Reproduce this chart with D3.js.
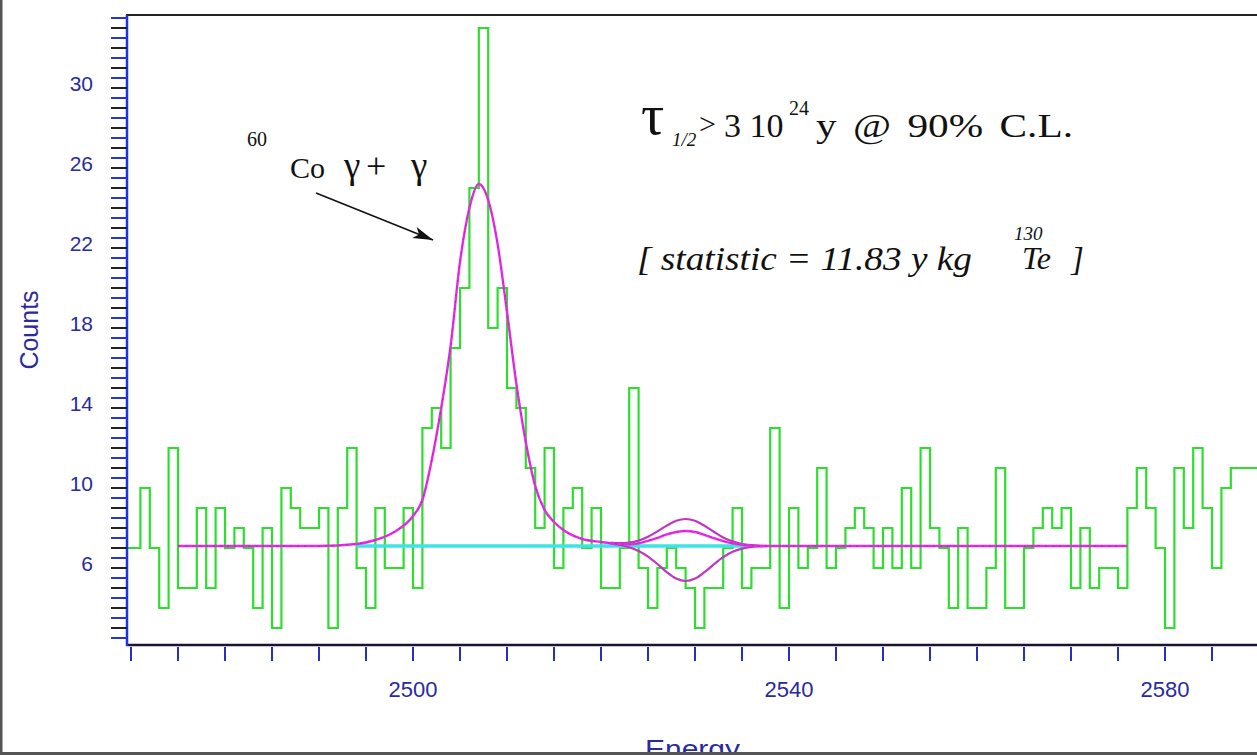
<!DOCTYPE html>
<html>
<head>
<meta charset="utf-8">
<script src="https://cdn.jsdelivr.net/npm/d3@7"></script>
<style>
html, body { margin: 0; padding: 0; background: #fff; }
svg { display: block; }
.tick-label { font-family: "Liberation Sans", Arial, sans-serif; font-size: 21px; fill: #2a2aa0; }
.serif { font-family: "Liberation Serif", "Times New Roman", serif; fill: #111; }
</style>
</head>
<body>
<div id="chart"></div>
<script>
// histogram: one bin per keV, first bin starts at binStart
var binStart = 2469;
var counts = [6, 6, 9, 6, 3, 11, 4, 4, 8, 4, 8, 6, 7, 6, 3, 7, 2, 9, 8, 7,
	7, 8, 2, 8, 11, 5, 3, 8, 5, 5, 8, 4, 12, 13, 11, 16, 19, 24, 32, 17,
	19, 14, 13, 10, 7, 11, 5, 8, 9, 6, 8, 4, 4, 6, 14, 5, 3, 5, 6, 5,
	4, 2, 4, 4, 6, 8, 4, 5, 5, 12, 3, 8, 5, 6, 10, 5, 6, 7, 8, 7,
	5, 7, 5, 9, 5, 11, 7, 6, 3, 7, 3, 3, 5, 10, 3, 3, 6, 7, 8, 7,
	8, 4, 7, 4, 5, 5, 4, 8, 10, 8, 6, 2, 10, 7, 11, 8, 5, 9, 10, 10, 10];

// 60Co sum peak fit
var fitEnergy = [2475, 2490, 2494, 2496, 2498, 2500, 2501, 2502, 2503, 2504, 2505, 2506, 2507,
	2508, 2509, 2510, 2511, 2512, 2513, 2514, 2515, 2516, 2518, 2520];
var fitCounts = [6.1, 6.1, 6.2, 6.4, 6.8, 7.6, 8.4, 10.4, 13.0, 16.1, 20.3, 23.0, 24.2,
	23.4, 21.2, 17.8, 14.2, 11.3, 9.1, 7.9, 7.3, 6.9, 6.45, 6.3];
var fitEndEnergy = 2576;
var fitEndCounts = 6.1;

// signal region curves around 2529 keV
var sigEnergy = [2521, 2522, 2523, 2524, 2525, 2526, 2527, 2528, 2529, 2530,
	2531, 2532, 2533, 2534, 2535, 2536, 2537, 2538];
var sigUpper = [6.27, 6.24, 6.27, 6.37, 6.56, 6.83, 7.12, 7.36, 7.45, 7.36,
	7.11, 6.81, 6.53, 6.33, 6.2, 6.14, 6.11, 6.1];
var sigMiddle = [6.24, 6.21, 6.18, 6.23, 6.36, 6.51, 6.68, 6.8, 6.85, 6.8,
	6.66, 6.49, 6.34, 6.23, 6.16, 6.12, 6.1, 6.1];
var sigLower = [6.23, 6.15, 6.04, 5.85, 5.57, 5.2, 4.79, 4.47, 4.35, 4.47,
	4.79, 5.18, 5.54, 5.81, 5.97, 6.05, 6.08, 6.1];

var baseEnergy = [2494, 2536];
var baseCounts = [6.1, 6.1];

var yTickLabels = [30, 26, 22, 18, 14, 10, 6];
var xTickLabels = [2500, 2540, 2580];

var width = 1257, height = 755;
var plotLeft = 127, plotTop = 15, plotRight = 1257, plotBottom = 645;

var svg = d3.select('#chart').append('svg')
	.attr('width', width)
	.attr('height', height);

var x = d3.scaleLinear().domain([2470, 2580]).range([131, 1165]);
var y = d3.scaleLinear().domain([6, 30]).range([548, 68]);

svg.append('clipPath').attr('id', 'plot-clip')
	.append('rect')
	.attr('x', plotLeft + 1).attr('y', plotTop + 1)
	.attr('width', plotRight - plotLeft).attr('height', plotBottom - plotTop - 1);

var plot = svg.append('g').attr('clip-path', 'url(#plot-clip)');

//histogram outline
var histPts = counts.map(function (c, i) { return [binStart + i, c]; });
histPts.push([binStart + counts.length, counts[counts.length - 1]]);

var stepLine = d3.line()
	.x(function (d) { return x(d[0]); })
	.y(function (d) { return y(d[1]); })
	.curve(d3.curveStepAfter);

var smoothLine = d3.line()
	.x(function (d) { return x(d[0]); })
	.y(function (d) { return y(d[1]); })
	.curve(d3.curveMonotoneX);

plot.append('path')
	.attr('d', stepLine(histPts))
	.attr('fill', 'none')
	.attr('stroke', '#2ede2e')
	.attr('stroke-width', 2.2);

//flat background under the fit
plot.append('path')
	.attr('d', smoothLine(d3.zip(baseEnergy, baseCounts)))
	.attr('fill', 'none')
	.attr('stroke', '#3fe3e3')
	.attr('stroke-width', 3.5);

//main fit = peak + middle signal curve
var fitPts = d3.zip(fitEnergy, fitCounts)
	.concat(d3.zip(sigEnergy, sigMiddle))
	.concat([[fitEndEnergy, fitEndCounts]]);

[sigUpper, sigLower].forEach(function (vals) {
	plot.append('path')
		.attr('d', smoothLine(d3.zip(sigEnergy, vals)))
		.attr('fill', 'none')
		.attr('stroke', '#c036c0')
		.attr('stroke-width', 2.2);
});

plot.append('path')
	.attr('d', smoothLine(fitPts))
	.attr('fill', 'none')
	.attr('stroke', '#e82ae8')
	.attr('stroke-width', 2.4);

plot.append('path')
	.attr('d', smoothLine(fitPts))
	.attr('fill', 'none')
	.attr('stroke', '#6a2a6a')
	.attr('stroke-width', 0.8)
	.attr('stroke-dasharray', '2,5')
	.attr('opacity', 0.6);

//frame + axes
svg.append('line')
	.attr('x1', plotLeft - 1).attr('x2', plotRight)
	.attr('y1', plotTop).attr('y2', plotTop)
	.attr('stroke', '#222').attr('stroke-width', 2);

svg.append('line')
	.attr('x1', plotLeft - 1).attr('x2', plotRight)
	.attr('y1', plotBottom).attr('y2', plotBottom)
	.attr('stroke', '#1e1234').attr('stroke-width', 2.5);

svg.append('line')
	.attr('x1', plotLeft).attr('x2', plotLeft)
	.attr('y1', plotTop).attr('y2', plotBottom + 1)
	.attr('stroke', '#1f33e6').attr('stroke-width', 2.5);

//y ticks every half count
svg.append('g').selectAll('line')
	.data(d3.range(1.5, 33, 0.5))
	.enter().append('line')
	.attr('x1', plotLeft - 16).attr('x2', plotLeft)
	.attr('y1', function (d) { return y(d); })
	.attr('y2', function (d) { return y(d); })
	.attr('stroke', function (d) { return d % 1 === 0 ? '#222' : '#2436cc'; })
	.attr('stroke-width', 2);

//labels sit a bit below their ticks in the original
svg.append('g').selectAll('text')
	.data(yTickLabels)
	.enter().append('text')
	.attr('class', 'tick-label')
	.attr('x', 93)
	.attr('y', function (d) { return y(d) + 23; })
	.attr('text-anchor', 'end')
	.text(function (d) { return d; });

svg.append('g').selectAll('line')
	.data(d3.range(2470, 2590, 5))
	.enter().append('line')
	.attr('x1', function (d) { return x(d); })
	.attr('x2', function (d) { return x(d); })
	.attr('y1', plotBottom + 2).attr('y2', plotBottom + 16)
	.attr('stroke', '#2630b8')
	.attr('stroke-width', 2);

svg.append('g').selectAll('text')
	.data(xTickLabels)
	.enter().append('text')
	.attr('class', 'tick-label')
	.attr('x', function (d) { return x(d); })
	.attr('y', 697)
	.attr('text-anchor', 'middle')
	.style('font-size', '22px')
	.text(function (d) { return d; });

svg.append('text')
	.attr('class', 'tick-label')
	.attr('transform', 'translate(38,330) rotate(-90)')
	.attr('text-anchor', 'middle')
	.style('font-size', '25px')
	.text('Counts');

svg.append('text')
	.attr('class', 'tick-label')
	.attr('x', 645).attr('y', 758)
	.attr('textLength', 95)
	.attr('lengthAdjust', 'spacingAndGlyphs')
	.style('font-size', '26px')
	.text('Energy');

//annotations
var notes = svg.append('g').attr('class', 'serif');

notes.append('text').attr('x', 247).attr('y', 146).style('font-size', '20px').text('60');
notes.append('text').attr('x', 290).attr('y', 178).style('font-size', '30px').text('Co');
notes.append('text').attr('x', 344).attr('y', 178).style('font-size', '37px').text('γ');
notes.append('text').attr('x', 366).attr('y', 178).style('font-size', '36px').text('+');
notes.append('text').attr('x', 411).attr('y', 178).style('font-size', '37px').text('γ');

svg.append('defs').append('marker')
	.attr('id', 'arrow')
	.attr('markerUnits', 'userSpaceOnUse')
	.attr('markerWidth', 22).attr('markerHeight', 14)
	.attr('refX', 20).attr('refY', 6)
	.attr('orient', 'auto')
	.append('path')
	.attr('d', 'M0,0 L20,6 L0,12 L5,6 Z')
	.attr('fill', '#111');

svg.append('line')
	.attr('x1', 316).attr('y1', 193)
	.attr('x2', 433).attr('y2', 240)
	.attr('stroke', '#111').attr('stroke-width', 1.6)
	.attr('marker-end', 'url(#arrow)');

notes.append('text').attr('x', 641).attr('y', 134).style('font-size', '58px').text('τ');
notes.append('text').attr('x', 672).attr('y', 146).style('font-size', '19px').style('font-style', 'italic').text('1/2');
notes.append('text').attr('x', 699).attr('y', 134).style('font-size', '30px').text('>');
notes.append('text').attr('x', 724).attr('y', 137).style('font-size', '34px').text('3 10');
notes.append('text').attr('x', 789).attr('y', 115).style('font-size', '20px').text('24');
notes.append('text').attr('x', 816).attr('y', 137)
	.attr('textLength', 257).attr('lengthAdjust', 'spacingAndGlyphs')
	.style('font-size', '34px').style('word-spacing', '5px')
	.text('y @ 90% C.L.');

notes.append('text').attr('x', 637).attr('y', 270)
	.attr('textLength', 335).attr('lengthAdjust', 'spacingAndGlyphs')
	.style('font-size', '33px').style('font-style', 'italic')
	.text('[ statistic = 11.83 y kg');
notes.append('text').attr('x', 1014).attr('y', 240)
	.style('font-size', '19px').style('font-style', 'italic').text('130');
notes.append('text').attr('x', 1022).attr('y', 269)
	.style('font-size', '32px').style('font-style', 'italic').text('Te');
notes.append('text').attr('x', 1071).attr('y', 270)
	.style('font-size', '33px').style('font-style', 'italic').text(']');

//grey frame of the screenshot
svg.append('rect').attr('x', 0).attr('y', 0).attr('width', 2.5).attr('height', height).attr('fill', '#555');
svg.append('rect').attr('x', 0).attr('y', 752).attr('width', width).attr('height', 3).attr('fill', '#555');
</script>
</body>
</html>
